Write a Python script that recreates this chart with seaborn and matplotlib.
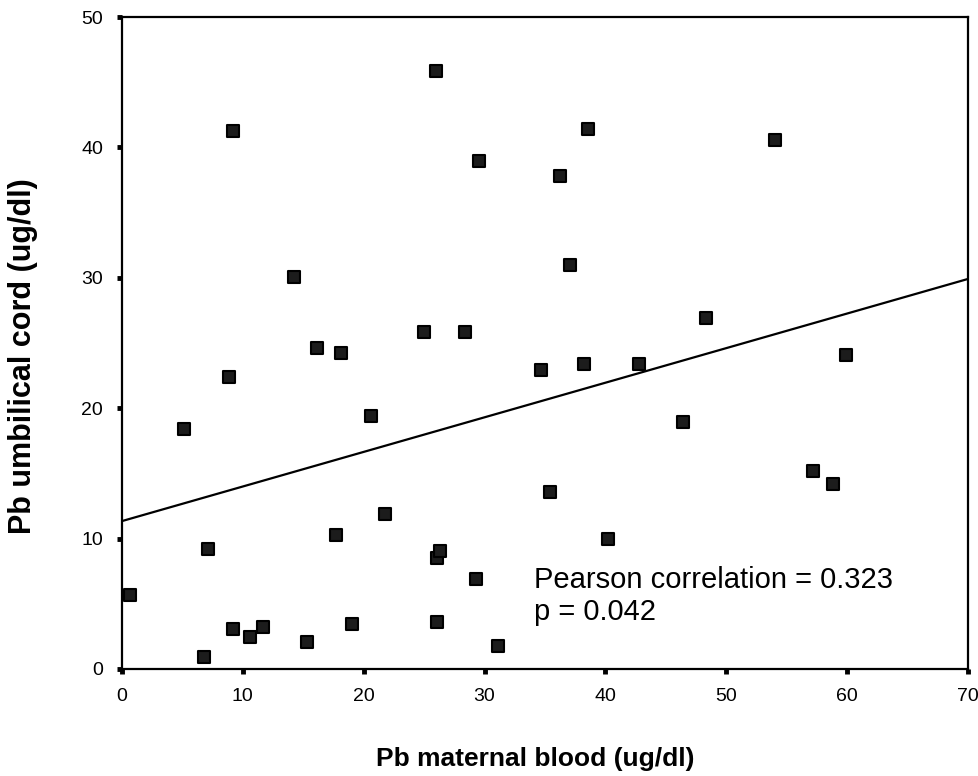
import numpy as np
import pandas as pd
import matplotlib
matplotlib.use('Agg')
import matplotlib.pyplot as plt
import seaborn as sns

# values (ug/dl)
maternal = [0.7, 5.1, 6.75, 7.1, 8.85, 9.2, 9.2, 10.6, 11.7, 14.2,
            15.3, 16.15, 17.7, 18.1, 19.0, 20.6, 21.8, 25.0, 25.95, 26.1,
            26.3, 26.1, 28.4, 29.3, 29.5, 31.1, 34.7, 35.4, 36.25, 37.1,
            38.2, 38.55, 40.2, 42.8, 46.4, 48.3, 54.0, 57.2, 58.8, 59.9]
cord = [5.7, 18.4, 0.95, 9.2, 22.4, 41.3, 3.07, 2.43, 3.24, 30.06,
        2.1, 24.6, 10.3, 24.2, 3.42, 19.4, 11.85, 25.85, 45.9, 8.5,
        9.07, 3.58, 25.85, 6.87, 38.95, 1.76, 22.9, 13.6, 37.8, 31.0,
        23.4, 41.45, 9.98, 23.4, 18.95, 26.9, 40.6, 15.15, 14.15, 24.1]

x_ticks = [0, 10, 20, 30, 40, 50, 60, 70]
y_ticks = [0, 10, 20, 30, 40, 50]
stats_lines = ['Pearson correlation = 0.323', 'p = 0.042']

df = pd.DataFrame({'maternal': maternal, 'cord': cord})

sns.set_style('white')
plt.rcParams['font.family'] = ['Liberation Sans', 'DejaVu Sans']
plt.rcParams.update({'text.color': 'black', 'axes.labelcolor': 'black',
                     'xtick.color': 'black', 'ytick.color': 'black'})

fig = plt.figure(figsize=(9.79, 7.76), dpi=100)
ax = fig.add_axes([0.1246, 0.1379, 0.9888 - 0.1246, 0.978 - 0.1379])
ax.set_xlim(0, 70)
ax.set_ylim(0, 50)

# scatter + least squares line across the whole axis
sns.regplot(x='maternal', y='cord', data=df, ax=ax, ci=None, truncate=False,
            marker='s',
            scatter_kws={'s': 78, 'color': '#1c1c1c', 'edgecolor': 'black',
                         'linewidths': 1.5, 'joinstyle': 'round',
                         'alpha': 1, 'zorder': 3},
            line_kws={'color': 'black', 'linewidth': 1.6})

ax.set_xlim(0, 70)
ax.set_ylim(0, 50)
ax.set_xticks(x_ticks)
ax.set_yticks(y_ticks)
ax.tick_params(bottom=True, left=True, direction='out', length=3.5,
               width=3.5, color='black', labelcolor='black',
               labelsize=14, pad=10)
for s in ax.spines.values():
    s.set_visible(True)
    s.set_color('black')
    s.set_linewidth(1.6)

ax.set_xlabel('Pb maternal blood (ug/dl)', fontsize=19, fontweight='bold')
ax.set_ylabel('Pb umbilical cord (ug/dl)', fontsize=22, fontweight='bold')
ax.xaxis.set_label_coords(0.488, -0.119)
ax.yaxis.set_label_coords(-0.099, 0.48)

ax.text(34.05, 6.2, stats_lines[0], fontsize=21, va='baseline')
ax.text(34.05, 3.75, stats_lines[1], fontsize=21, va='baseline')

fig.savefig('out.png', dpi=100)
